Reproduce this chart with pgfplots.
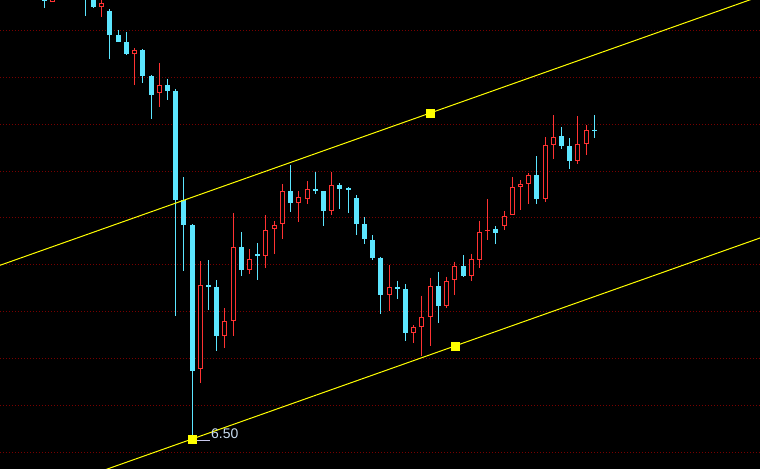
\documentclass[border=0pt]{standalone}
\usepackage{pgfplots}
\pgfplotsset{compat=1.18}
\usepackage{pgfplotstable}
\usepackage{fontspec}
\setmainfont{Liberation Sans}

\definecolor{upred}{RGB}{255,50,50}
\definecolor{downcyan}{RGB}{92,230,255}
\definecolor{gridred}{RGB}{120,0,0}
\definecolor{chanyellow}{RGB}{255,255,0}
\definecolor{labelblue}{RGB}{200,220,240}
\definecolor{labelline}{RGB}{200,200,235}

% candle index i; H = high, T = body top, B = body bottom, L = low (screen scale, larger = lower)
\pgfplotstableread{
i H T B L
0 -15 -10 0.7 7.7
5 -25 -20 -1 15.7
6 -12 -10 6.7 7.7
8 9 11 35 59
9 30 35 42 42
10 32 42 54 55
12 49 50 76 83
13 75 76 95 119
15 79 85 91 100
16 89 91 199.7 315.7
17 177 200 224.7 270.7
18 224 225 370.7 439
20 260 285.3 286.8 310
21 280 287.3 335.7 350.7
24 232.3 247.3 269.7 275.7
26 243 254 255.5 279.7
30 165 191 202.7 211.7
33 171.7 189 190.5 194
34 191 191 210.7 225.7
36 183 185 188.7 208.7
37 187 188 189.5 212.7
38 195 198 223.7 234.7
39 217 224 238.7 243.7
40 235 240 257.7 259.7
41 256.7 257.7 294.7 313.7
43 280.7 287 288.5 298.7
44 284 289 332.7 340.7
48 271.7 286 305.7 322.7
51 255 266 276 276.7
55 226 228.7 232.7 243.7
60 156 175 199 203.7
63 127 136 146 148.7
64 138 146 161 169
67 115 129.7 131 137.7
}\downtab

\pgfplotstableread{
i H T B L
1 -10 -6 1.7 1.7
7 -5 3.3 6.7 16.7
11 48 50 53.7 85
14 63 85.3 92.7 107
19 261 285.3 369.3 383.3
22 308 321.3 335.7 347.7
23 213 247.3 320.7 335.7
25 249.3 259.3 269.7 273.7
27 215 230.3 255.7 267.7
28 221 225.3 229.3 253.7
29 184 191.3 224.3 238.7
31 191 197 202.7 221.7
32 181 189 198.7 203.7
35 172 185 210.7 214.7
42 264.7 287 294.7 310.7
45 325 327 332.7 342.7
46 295.7 317 326.7 355.7
47 277.7 286 316.7 345.7
49 276.7 281 305.7 307.7
50 261.7 266 279.7 294.7
52 253.7 259 275.7 280.7
53 220.7 232 259.7 267.7
54 199 229.5 231 239.7
56 211 216 225.7 229.7
57 177 187 214.7 215
58 180 184 186.5 210
59 173.3 175.3 183.7 203.7
61 137 145.3 198.7 201.7
62 115 137.3 144.7 158.7
65 116 144 160.7 163.7
66 125 130.3 143.7 154.7
}\uptab

\begin{document}
\begin{tikzpicture}
\begin{axis}[
  scale only axis, width=760bp, height=469bp,
  xmin=-5.396, xmax=87.17, ymin=0, ymax=469, y dir=reverse,
  axis background/.style={fill=black},
  axis line style={draw=none},
  xtick=\empty,
  ytick={30.3,77.3,124.3,171.3,217.5,264.3,311.3,358.3,405.3,452.3},
  yticklabels={},
  major tick length=0pt,
  ymajorgrids,
  major grid style={gridred, line width=0.9bp, dash pattern=on 1bp off 2bp},
]
% down candles (cyan, filled)
\addplot[downcyan, line width=1bp, mark=none, quiver={u=0, v=\thisrow{L}-\thisrow{H}}] table[x=i, y=H] {\downtab};
\addplot[downcyan, line width=5bp, mark=none, quiver={u=0, v=\thisrow{B}-\thisrow{T}}] table[x=i, y=T] {\downtab};
% up candles (red, hollow)
\addplot[upred, line width=1bp, mark=none, quiver={u=0, v=\thisrow{L}-\thisrow{H}}] table[x=i, y=H] {\uptab};
\addplot[upred, line width=5bp, mark=none, quiver={u=0, v=\thisrow{B}-\thisrow{T}}] table[x=i, y=T] {\uptab};
\addplot[black, line width=3bp, mark=none, quiver={u=0, v={max(\thisrow{B}-\thisrow{T}-2,0)}}] table[x=i, y expr=\thisrow{T}+1] {\uptab};
% channel lines
\addplot[chanyellow, line width=1bp] coordinates {(-5.4,265.3) (87.2,-3.8)};
\addplot[chanyellow, line width=1bp] coordinates {(-5.4,507.0) (87.2,237.9)};
% anchor points
\addplot[only marks, mark=square*, mark size=4bp, chanyellow] coordinates {(18,439) (47,113.3) (50,346)};
% low label
\addplot[labelline, line width=1bp] coordinates {(18.5,440) (20.18,440)};
\node[anchor=base west, inner sep=0pt, text=labelblue, font=\fontsize{14}{16}\selectfont] at (axis cs:20.3,438) {6.50};
\end{axis}
\pgfresetboundingbox
\useasboundingbox (current axis.south west) rectangle (current axis.north east);
\end{tikzpicture}
\end{document}
